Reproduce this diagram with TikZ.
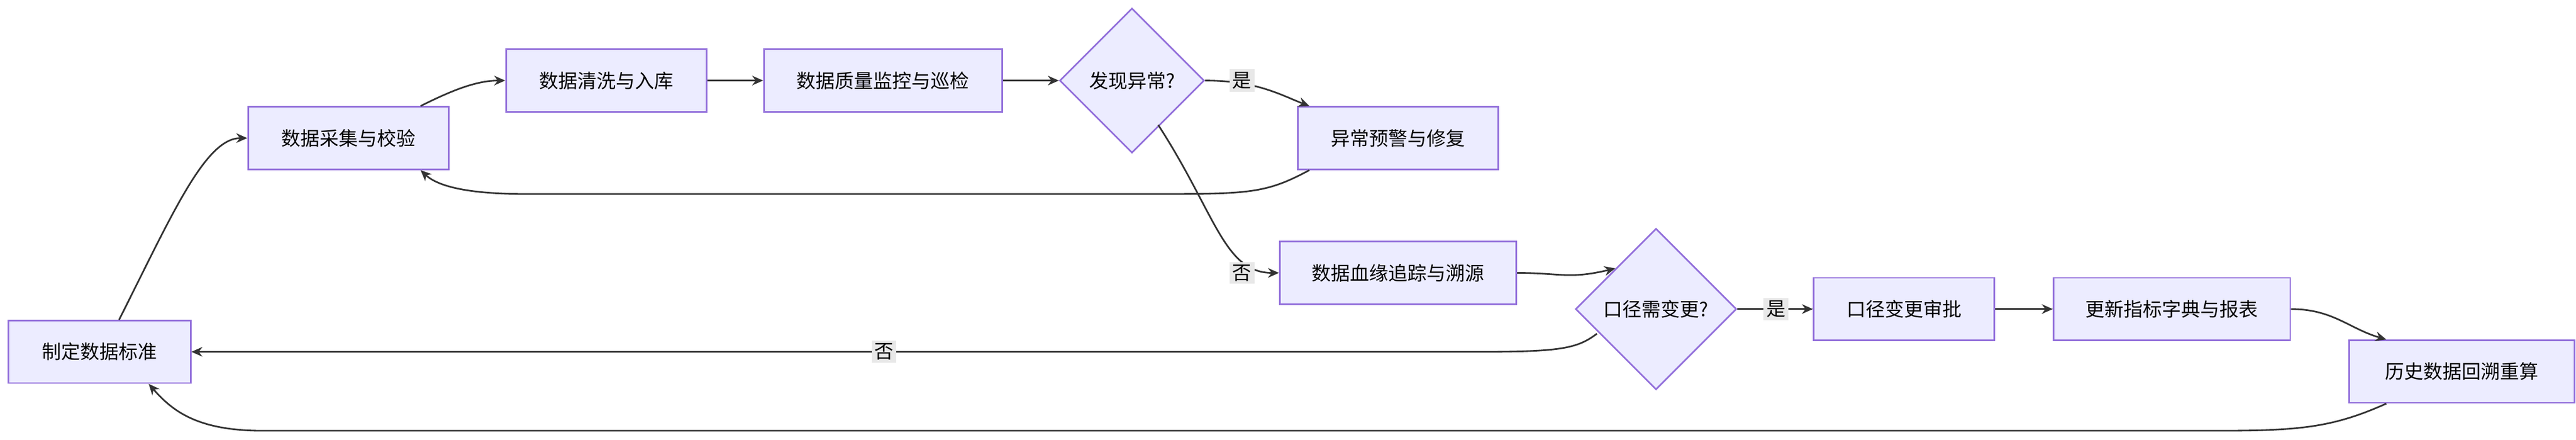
\documentclass[tikz,border=0pt]{standalone}
\usepackage{fontspec}
\setmainfont{Noto Sans CJK SC}
\usetikzlibrary{shapes.geometric,arrows.meta}
\definecolor{boxfill}{HTML}{ECECFF}
\definecolor{boxline}{HTML}{9370DB}
\definecolor{edgeline}{HTML}{333333}
\definecolor{lblfill}{HTML}{E8E8E8}
\tikzset{
  procstep/.style={draw=boxline, fill=boxfill, line width=0.6pt, minimum height=38*0.6pt, font=\fontsize{7}{8}\selectfont, inner sep=0pt},
  decide/.style={diamond, draw=boxline, fill=boxfill, line width=0.6pt, aspect=1, inner sep=0pt, font=\fontsize{7}{8}\selectfont},
  flow/.style={draw=edgeline, line width=0.6pt, -{Stealth[length=4pt,width=3.5pt]}},
  lbl/.style={fill=lblfill, inner sep=1pt, font=\fontsize{7}{8}\selectfont}
}
\begin{document}
\begin{tikzpicture}[x=0.6pt, y=-0.6pt]
  \useasboundingbox (0,0) rectangle (1568,267.6);

  \node[procstep, minimum width=111*0.6pt] (std) at (60.5,214) {制定数据标准};
  \node[procstep, minimum width=122*0.6pt] (collect) at (212,84) {数据采集与校验};
  \node[procstep, minimum width=122*0.6pt] (clean) at (369,49) {数据清洗与入库};
  \node[procstep, minimum width=145*0.6pt] (monitor) at (537.5,49) {数据质量监控与巡检};
  \node[decide, minimum size=88*0.6pt] (abn) at (689,49) {发现异常?};
  \node[procstep, minimum width=122*0.6pt] (alert) at (851,84) {异常预警与修复};
  \node[procstep, minimum width=144*0.6pt] (lineage) at (851,166) {数据血缘追踪与溯源};
  \node[decide, minimum size=98*0.6pt] (change) at (1008,188) {口径需变更?};
  \node[procstep, minimum width=110*0.6pt] (approve) at (1159,188) {口径变更审批};
  \node[procstep, minimum width=144*0.6pt] (dict) at (1322,188) {更新指标字典与报表};
  \node[procstep, minimum width=137*0.6pt] (recalc) at (1498.5,226) {历史数据回溯重算};

  \coordinate (c1) at (705,76);
  \coordinate (c2) at (972,203);

  \draw[flow] ([xshift=12*0.6pt]std.north) .. controls (105,130) and (125,84) .. (collect.west);
  \draw[flow] ([xshift=44*0.6pt]collect.north) .. controls (275,55) and (290,49) .. (clean.west);
  \draw[flow] (clean) -- (monitor);
  \draw[flow] (monitor) -- (abn);
  \draw[flow] (abn.east) .. controls (765,49) and (780,58) .. ([xshift=-54*0.6pt]alert.north);
  \node[lbl] (yes1) at (756,49) {是};
  \draw[flow] ([xshift=-54*0.6pt]alert.south) .. controls (770,118) and (760,118) .. (700,118)
    -- (320,118) .. controls (280,118) and (265,112) .. ([xshift=44*0.6pt]collect.south);
  \draw[flow] (c1) .. controls (740,130) and (745,166) .. (lineage.west);
  \node[lbl] (no1) at (756,166) {否};
  \draw[flow] (lineage.east) .. controls (950,166) and (955,170) .. (change.north west);
  \draw[flow] (change) -- (approve);
  \node[lbl] (yes2) at (1081,188) {是};
  \draw[flow] (c2) .. controls (960,212) and (950,214) .. (900,214) -- (std.east);
  \node[lbl] (no2) at (538,214) {否};
  \draw[flow] (approve) -- (dict);
  \draw[flow] (dict.east) .. controls (1420,188) and (1430,200) .. ([xshift=-46*0.6pt]recalc.north);
  \draw[flow] ([xshift=-46*0.6pt]recalc.south) .. controls (1420,260) and (1400,262) .. (1350,262)
    -- (160,262) .. controls (120,262) and (105,250) .. ([xshift=30*0.6pt]std.south);
\end{tikzpicture}
\end{document}
